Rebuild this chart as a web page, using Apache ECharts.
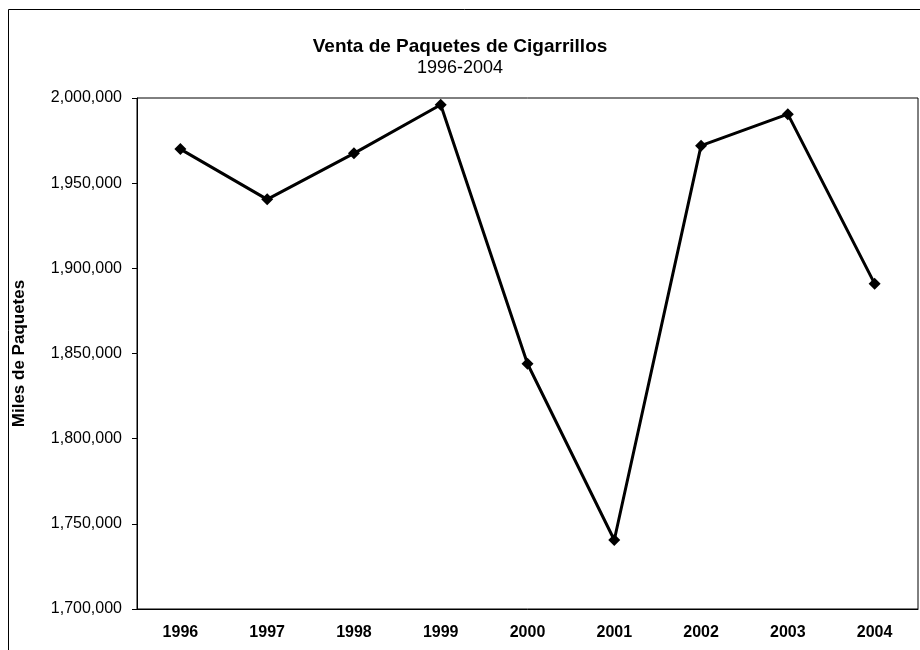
<!DOCTYPE html>
<html>
<head>
<meta charset="utf-8">
<script src="https://cdn.jsdelivr.net/npm/echarts@6/dist/echarts.min.js"></script>
<style>
  html, body { margin: 0; padding: 0; background: #fff; }
  #chart { width: 920px; height: 650px; }
</style>
</head>
<body>
<div id="chart"></div>
<script>
const years = ['1996', '1997', '1998', '1999', '2000', '2001', '2002', '2003', '2004']
const ventas = [1970000, 1940500, 1967500, 1996000, 1844000, 1740500, 1972000, 1990500, 1891000]
const yMin = 1700000
const yMax = 2000000
const yStep = 50000

const chart = echarts.init(document.getElementById('chart'))
const font = '"Liberation Sans", Arial, sans-serif'
const option = {
  backgroundColor: '#ffffff',
  animation: false,
  textStyle: { fontFamily: font, color: '#000' },
  title: {
    text: 'Venta de Paquetes de Cigarrillos',
    subtext: '1996-2004',
    left: 'center',
    top: 32,
    itemGap: 3,
    textStyle: { fontFamily: font, fontSize: 19, fontWeight: 'bold', color: '#000' },
    subtextStyle: { fontFamily: font, fontSize: 18, color: '#000' }
  },
  graphic: [{
    type: 'rect',
    shape: { x: 8.5, y: 9.5, width: 930, height: 660 },
    style: { fill: null, stroke: '#000', lineWidth: 1 },
    silent: true
  }],
  grid: {
    left: 137,
    right: 2,
    top: 98,
    bottom: 41,
    show: true,
    borderColor: '#000',
    borderWidth: 1
  },
  xAxis: {
    type: 'category',
    data: years,
    boundaryGap: true,
    axisLine: { lineStyle: { color: '#000', width: 1 } },
    axisTick: { length: 5, lineStyle: { color: '#000' } },
    axisLabel: { margin: 16, fontSize: 16, fontWeight: 'bold', color: '#000', fontFamily: font }
  },
  yAxis: {
    type: 'value',
    min: yMin,
    max: yMax,
    interval: yStep,
    name: 'Miles de Paquetes',
    nameLocation: 'middle',
    nameGap: 109,
    nameTextStyle: { fontSize: 17, fontWeight: 'bold', color: '#000', fontFamily: font },
    axisLine: { show: true, lineStyle: { color: '#000', width: 1 } },
    axisTick: { show: true, length: 5, lineStyle: { color: '#000' } },
    splitLine: { show: false },
    axisLabel: {
      margin: 15,
      fontSize: 16,
      color: '#000',
      fontFamily: font,
      formatter: v => v.toLocaleString('en-US')
    }
  },
  series: [{
    type: 'line',
    data: ventas,
    symbol: 'diamond',
    symbolSize: 12,
    lineStyle: { color: '#000', width: 3 },
    itemStyle: { color: '#000' }
  }]
}
chart.setOption(option)
</script>
</body>
</html>
